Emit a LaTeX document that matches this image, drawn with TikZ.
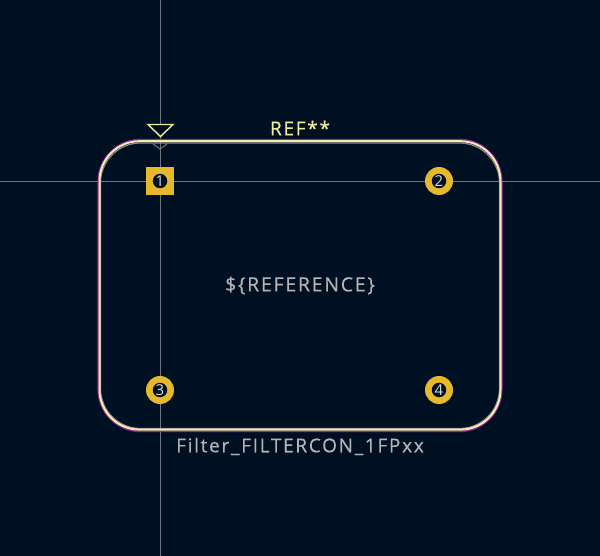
\documentclass[tikz,border=0pt]{standalone}
\usepackage{fontspec}
\setmainfont[LetterSpace=9,FakeBold=0.4]{Open Sans}
\newfontfamily\padfont{Open Sans}
\definecolor{bgdark}{HTML}{001023}
\definecolor{crossgrey}{HTML}{6E7480}
\definecolor{padgold}{HTML}{E6B82C}
\definecolor{outlinecream}{HTML}{F2EFB0}
\definecolor{courtmagenta}{HTML}{A0209A}
\definecolor{fabgrey}{HTML}{8C8C8C}
\definecolor{textgrey}{HTML}{B4B4B4}
\definecolor{refyellow}{HTML}{F0EE98}
\tikzstyle{padcirc} = [circle, fill = padgold, minimum size = 28pt, inner sep = 0pt]
\tikzstyle{padrect} = [rectangle, fill = padgold, minimum size = 28pt, inner sep = 0pt]
\tikzstyle{hole} = [circle, fill = bgdark, text = white!85!black, minimum size = 14.5pt, inner sep = 0pt, font = \padfont\fontsize{15}{15}\selectfont]
\tikzstyle{label} = [inner sep = 0pt, text = textgrey]
\begin{document}
\begin{tikzpicture}[x = 1pt, y = -1pt]
    \useasboundingbox[fill = bgdark] (0, 0) rectangle (600, 556);
    % crosshair
    \coordinate (xleft) at (0, 181);
    \coordinate (xright) at (600, 181);
    \coordinate (ytop) at (160, 0);
    \coordinate (ybottom) at (160, 556);
    \draw[crossgrey, line width = 0.7pt] (xleft) -- (xright);
    \draw[crossgrey, line width = 0.7pt] (ytop) -- (ybottom);
    % outlines
    \draw[courtmagenta, line width = 1.5pt, rounded corners = 42pt] (98.2, 139.6) rectangle (501.8, 431.4);
    \draw[fabgrey, line width = 1.2pt, rounded corners = 40pt] (100.5, 143) rectangle (499.5, 428.5);
    \draw[outlinecream, line width = 2pt, rounded corners = 40pt] (99.5, 141.2) rectangle (500.5, 429.6);
    % origin marks
    \coordinate (chevleft) at (153, 144);
    \coordinate (chevtip) at (160, 149);
    \coordinate (chevright) at (167, 144);
    \draw[crossgrey, line width = 1pt] (chevleft) -- (chevtip) -- (chevright);
    \coordinate (triwest) at (148, 124.5);
    \coordinate (trieast) at (173, 124.5);
    \coordinate (tritip) at (160.5, 136.5);
    \draw[refyellow, line width = 1.4pt, fill = bgdark] (triwest) -- (trieast) -- (tritip) -- cycle;
    % pads
    \node(pad_one)[padrect] at (160, 181) {};
    \node(pad_two)[padcirc] at (439, 181) {};
    \node(pad_three)[padcirc] at (160, 390) {};
    \node(pad_four)[padcirc] at (439, 390) {};
    \node(hole_one)[hole] at (pad_one) {1};
    \node(hole_two)[hole] at (pad_two) {2};
    \node(hole_three)[hole] at (pad_three) {3};
    \node(hole_four)[hole] at (pad_four) {4};
    % texts
    \node(ref_top)[label, text = refyellow, font = \fontsize{19}{19}\selectfont] at (300, 128) {REF**};
    \node(ref_mid)[label, font = \fontsize{19.5}{19.5}\selectfont] at (300, 285.5) {\$\{REFERENCE\}};
    \node(fp_name)[label, font = \fontsize{19}{19}\selectfont] at (300, 446.5) {Filter\_FILTERCON\_1FPxx};
\end{tikzpicture}
\end{document}
